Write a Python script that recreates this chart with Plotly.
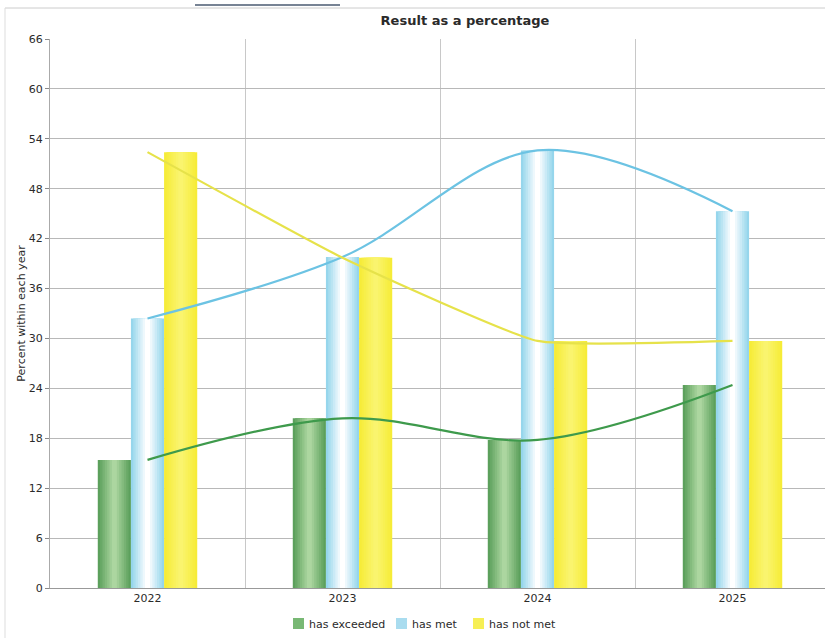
import plotly.graph_objects as go

years = ["2022", "2023", "2024", "2025"]
has_exceeded = [15.4, 20.4, 17.8, 24.4]
has_met = [32.4, 39.8, 52.6, 45.3]
has_not_met = [52.4, 39.7, 29.7, 29.7]

series_names = ["has exceeded", "has met", "has not met"]
series_values = [has_exceeded, has_met, has_not_met]
edge_colors = [(92, 160, 92), (150, 214, 236), (246, 236, 56)]
mid_colors = [(172, 214, 160), (255, 255, 255), (250, 244, 110)]
line_colors = ["#3e9a4c", "#6cc3e3", "#e6e24a"]
line_smoothing = [1.0, 1.0, 0.4]
legend_colors = ["#78b874", "#a9dcef", "#f6ef55"]

xpos = list(range(len(years)))
bar_w = 0.17
centers = [-bar_w, 0.0, bar_w]
layers = 7

L, T, B, W, H = 50, 39, 50, 825, 638
PW, PH = W - L, H - T - B


def px_x(px):
    return (px - L) / PW


def px_y(py):
    return (H - B - py) / PH


def mix(a, b, t):
    return "rgb(%d,%d,%d)" % tuple(round(a[i] + (b[i] - a[i]) * t) for i in range(3))


fig = go.Figure()

for name, vals, edge, mid, c in zip(series_names, series_values, edge_colors, mid_colors, centers):
    for k in range(layers):
        t = k / (layers - 1)
        w = bar_w * (1 - 0.85 * t)
        fig.add_trace(go.Bar(
            x=xpos, y=vals, width=w, offset=c - w / 2,
            marker=dict(color=mix(edge, mid, t), line=dict(width=0)),
            name=name, showlegend=False,
            hoverinfo="skip" if k else None,
        ))

for name, vals, lc, sm in zip(series_names, series_values, line_colors, line_smoothing):
    fig.add_trace(go.Scatter(
        x=xpos, y=vals, mode="lines", name=name,
        line=dict(color=lc, width=2.2, shape="spline", smoothing=sm),
        showlegend=False,
    ))

font_family = "Verdana, DejaVu Sans, sans-serif"
txt = "#2a2a2a"

# custom legend (squares + labels)
legend_sq_x = [293, 396, 473]
shapes = []
annotations = []
for name, col, sx in zip(series_names, legend_colors, legend_sq_x):
    shapes.append(dict(type="rect", xref="paper", yref="paper",
                       x0=px_x(sx), x1=px_x(sx + 11), y0=px_y(629), y1=px_y(618),
                       fillcolor=col, line=dict(width=0)))
    annotations.append(dict(text=name, xref="paper", yref="paper", x=px_x(sx + 14), y=px_y(624),
                            xanchor="left", yanchor="middle", showarrow=False,
                            font=dict(size=11, color=txt, family=font_family)))

shapes += [
    dict(type="line", xref="paper", yref="paper", x0=px_x(5), x1=1.0,
         y0=px_y(8), y1=px_y(8), line=dict(color="#cccccc", width=1)),
    dict(type="line", xref="paper", yref="paper", x0=px_x(5), x1=px_x(5),
         y0=px_y(8), y1=px_y(H), line=dict(color="#dddddd", width=1)),
    dict(type="line", xref="paper", yref="paper", x0=px_x(195), x1=px_x(340),
         y0=px_y(5), y1=px_y(5), line=dict(color="#4a5a70", width=1.5)),
]

fig.update_layout(
    width=W, height=H,
    margin=dict(l=L, r=0, t=T, b=B),
    barmode="overlay",
    showlegend=False,
    paper_bgcolor="white", plot_bgcolor="white",
    font=dict(family=font_family, size=11, color=txt),
    title=dict(text="<b>Result as a percentage</b>", x=465 / W, xanchor="center",
               xref="container", y=1 - 20 / H, yanchor="middle", yref="container",
               font=dict(size=13, color=txt, family=font_family)),
    xaxis=dict(
        range=[-0.5, -0.5 + PW / 195], tickvals=xpos, ticktext=years,
        showgrid=False, zeroline=False, showline=True, linecolor="#999999",
        ticks="", tickfont=dict(size=11, color=txt),
        minor=dict(tickvals=[0.5, 1.5, 2.5], showgrid=True, gridcolor="#c8c8c8", gridwidth=1,
                   ticks=""),
    ),
    yaxis=dict(
        range=[0, 66], tickvals=list(range(0, 67, 6)),
        showgrid=True, gridcolor="#b8b8b8", gridwidth=1, zeroline=False,
        showline=True, linecolor="#aaaaaa", ticks="outside", ticklen=4, tickcolor="#888888",
        tickfont=dict(size=11, color=txt),
        title=dict(text="Percent within each year", font=dict(size=11, color=txt), standoff=0),
    ),
    shapes=shapes,
    annotations=annotations,
)

fig.write_html("out.html")
